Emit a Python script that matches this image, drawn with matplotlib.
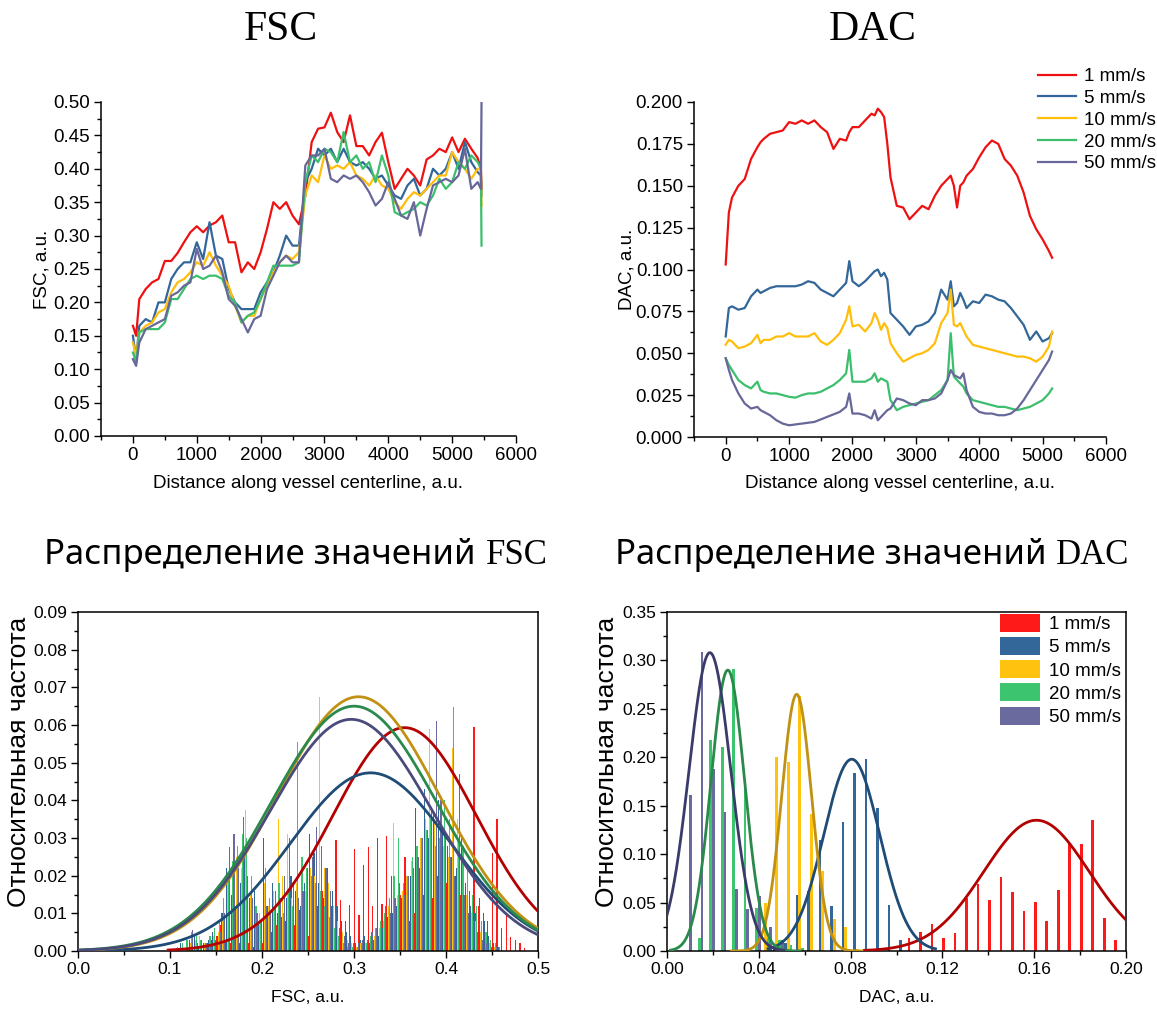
import numpy as np
import matplotlib
matplotlib.use("Agg")
import matplotlib.pyplot as plt
from matplotlib.ticker import MultipleLocator, FormatStrFormatter
from matplotlib.patches import Patch

W, H = 1157, 1009
plt.rcParams['font.family'] = ['Liberation Sans', 'DejaVu Sans']

# ---------------------------------------------------------------- data
speeds = ["1 mm/s", "5 mm/s", "10 mm/s", "20 mm/s", "50 mm/s"]

# FSC profiles along the vessel centerline
fsc_dist = [0, 50, 100, 200, 300, 400, 500, 600, 700, 800, 900, 1000, 1100, 1200,
            1300, 1400, 1500, 1600, 1700, 1800, 1900, 2000, 2100, 2200, 2300, 2400,
            2500, 2600, 2700, 2800, 2900, 3000, 3100, 3200, 3300, 3400, 3500, 3600,
            3700, 3800, 3900, 4000, 4100, 4200, 4300, 4400, 4500, 4600, 4700, 4800,
            4900, 5000, 5100, 5200, 5300, 5400, 5450, 5460]
fsc_1 = [0.165, 0.150, 0.205, 0.220, 0.230, 0.235, 0.262, 0.262, 0.274, 0.290, 0.305,
         0.314, 0.305, 0.315, 0.320, 0.330, 0.290, 0.290, 0.245, 0.260, 0.250, 0.275,
         0.310, 0.350, 0.340, 0.350, 0.330, 0.317, 0.360, 0.440, 0.460, 0.462, 0.484,
         0.455, 0.440, 0.480, 0.434, 0.434, 0.420, 0.440, 0.454, 0.410, 0.370, 0.385,
         0.400, 0.390, 0.375, 0.414, 0.420, 0.430, 0.425, 0.447, 0.425, 0.445, 0.430,
         0.416, 0.400, 0.370]
fsc_5 = [0.150, 0.115, 0.165, 0.175, 0.170, 0.200, 0.200, 0.235, 0.250, 0.260, 0.260,
         0.290, 0.265, 0.320, 0.270, 0.265, 0.220, 0.200, 0.190, 0.190, 0.190, 0.215,
         0.230, 0.245, 0.270, 0.300, 0.285, 0.285, 0.380, 0.400, 0.430, 0.420, 0.430,
         0.410, 0.430, 0.410, 0.405, 0.410, 0.400, 0.385, 0.390, 0.375, 0.360, 0.355,
         0.375, 0.385, 0.360, 0.370, 0.400, 0.390, 0.400, 0.425, 0.400, 0.440, 0.410,
         0.395, 0.390, 0.360]
fsc_10 = [0.140, 0.120, 0.155, 0.165, 0.170, 0.185, 0.190, 0.215, 0.230, 0.235, 0.245,
          0.260, 0.255, 0.275, 0.255, 0.240, 0.225, 0.195, 0.170, 0.180, 0.180, 0.205,
          0.225, 0.245, 0.260, 0.270, 0.265, 0.275, 0.360, 0.390, 0.380, 0.420, 0.400,
          0.405, 0.400, 0.410, 0.390, 0.385, 0.375, 0.390, 0.375, 0.370, 0.350, 0.340,
          0.355, 0.365, 0.360, 0.370, 0.380, 0.390, 0.390, 0.425, 0.410, 0.400, 0.385,
          0.400, 0.400, 0.345]
fsc_20 = [0.125, 0.110, 0.155, 0.160, 0.160, 0.160, 0.170, 0.205, 0.205, 0.220, 0.235,
          0.240, 0.235, 0.240, 0.240, 0.235, 0.210, 0.200, 0.170, 0.180, 0.185, 0.205,
          0.230, 0.255, 0.255, 0.255, 0.255, 0.260, 0.380, 0.420, 0.410, 0.430, 0.425,
          0.410, 0.455, 0.410, 0.420, 0.400, 0.410, 0.380, 0.420, 0.390, 0.335, 0.330,
          0.335, 0.340, 0.350, 0.345, 0.360, 0.385, 0.370, 0.380, 0.410, 0.400, 0.420,
          0.410, 0.400, 0.285]
fsc_50 = [0.115, 0.105, 0.140, 0.160, 0.165, 0.170, 0.175, 0.210, 0.215, 0.225, 0.230,
          0.280, 0.250, 0.255, 0.270, 0.245, 0.205, 0.195, 0.175, 0.155, 0.175, 0.180,
          0.220, 0.240, 0.260, 0.270, 0.260, 0.260, 0.405, 0.420, 0.420, 0.430, 0.385,
          0.380, 0.390, 0.385, 0.390, 0.380, 0.365, 0.345, 0.355, 0.380, 0.355, 0.330,
          0.325, 0.350, 0.300, 0.340, 0.375, 0.380, 0.385, 0.380, 0.390, 0.430, 0.370,
          0.380, 0.370, 0.500]

# DAC profiles along the vessel centerline
dac_dist = [0, 50, 100, 200, 300, 400, 500, 550, 600, 700, 800, 900, 1000, 1100, 1200,
            1300, 1400, 1500, 1600, 1700, 1800, 1900, 1950, 2000, 2100, 2200, 2300, 2350,
            2400, 2450, 2500, 2550, 2600, 2700, 2800, 2900, 3000, 3100, 3200, 3300, 3400,
            3500, 3550, 3600, 3650, 3700, 3750, 3800, 3900, 4000, 4100, 4200, 4300, 4400,
            4500, 4600, 4700, 4800, 4900, 5000, 5100, 5150]
dac_1 = [0.103, 0.134, 0.143, 0.150, 0.154, 0.166, 0.173, 0.176, 0.178, 0.181, 0.182,
         0.183, 0.188, 0.187, 0.189, 0.187, 0.189, 0.185, 0.182, 0.172, 0.178, 0.177,
         0.182, 0.185, 0.185, 0.189, 0.193, 0.192, 0.196, 0.194, 0.191, 0.175, 0.155,
         0.138, 0.137, 0.130, 0.134, 0.138, 0.136, 0.144, 0.150, 0.154, 0.156, 0.150,
         0.137, 0.150, 0.152, 0.156, 0.160, 0.167, 0.173, 0.177, 0.175, 0.166, 0.162,
         0.156, 0.146, 0.132, 0.124, 0.118, 0.111, 0.107]
dac_5 = [0.060, 0.077, 0.078, 0.076, 0.077, 0.084, 0.088, 0.086, 0.087, 0.089, 0.090,
         0.090, 0.090, 0.090, 0.091, 0.093, 0.092, 0.088, 0.086, 0.084, 0.088, 0.092,
         0.105, 0.093, 0.090, 0.093, 0.097, 0.099, 0.100, 0.096, 0.098, 0.094, 0.074,
         0.070, 0.066, 0.061, 0.066, 0.067, 0.069, 0.074, 0.088, 0.082, 0.093, 0.078,
         0.080, 0.086, 0.082, 0.077, 0.081, 0.080, 0.085, 0.084, 0.082, 0.081, 0.077,
         0.072, 0.067, 0.058, 0.063, 0.057, 0.059, 0.062]
dac_10 = [0.055, 0.058, 0.057, 0.053, 0.054, 0.056, 0.061, 0.056, 0.058, 0.058, 0.060,
          0.060, 0.062, 0.060, 0.060, 0.060, 0.062, 0.057, 0.055, 0.058, 0.062, 0.070,
          0.078, 0.066, 0.067, 0.063, 0.068, 0.074, 0.070, 0.064, 0.068, 0.065, 0.056,
          0.050, 0.045, 0.047, 0.049, 0.050, 0.052, 0.056, 0.068, 0.074, 0.088, 0.067,
          0.066, 0.068, 0.064, 0.060, 0.055, 0.054, 0.053, 0.052, 0.051, 0.050, 0.049,
          0.048, 0.048, 0.047, 0.045, 0.048, 0.054, 0.063]
dac_20 = [0.047, 0.043, 0.040, 0.034, 0.031, 0.029, 0.033, 0.028, 0.027, 0.026, 0.026,
          0.025, 0.024, 0.0235, 0.025, 0.026, 0.026, 0.027, 0.029, 0.031, 0.034, 0.038,
          0.052, 0.033, 0.033, 0.033, 0.035, 0.038, 0.033, 0.035, 0.034, 0.033, 0.022,
          0.016, 0.018, 0.019, 0.020, 0.021, 0.022, 0.025, 0.028, 0.034, 0.062, 0.036,
          0.034, 0.032, 0.030, 0.026, 0.022, 0.021, 0.020, 0.019, 0.018, 0.018, 0.017,
          0.016, 0.017, 0.018, 0.020, 0.022, 0.026, 0.029]
dac_50 = [0.047, 0.040, 0.034, 0.026, 0.020, 0.017, 0.018, 0.016, 0.015, 0.013, 0.010,
          0.008, 0.007, 0.0075, 0.008, 0.0085, 0.009, 0.0105, 0.012, 0.0135, 0.015, 0.018,
          0.026, 0.014, 0.014, 0.013, 0.011, 0.016, 0.010, 0.012, 0.014, 0.016, 0.017,
          0.023, 0.022, 0.020, 0.019, 0.022, 0.022, 0.023, 0.026, 0.034, 0.040, 0.037,
          0.036, 0.035, 0.038, 0.028, 0.018, 0.015, 0.014, 0.014, 0.013, 0.013, 0.014,
          0.017, 0.022, 0.028, 0.034, 0.040, 0.046, 0.051]

# FSC histograms: relative frequency per 0.005 bin, bins start at 0.100
fsc_bin_start = 0.100
fsc_bin_width = 0.005
fsc_hist_1 = [0, 0, 0, 0, 0, 0, 0, 0, 0.002, 0.003,
              0.004, 0.007, 0.003, 0.002, 0.001, 0.002, 0.003, 0.002, 0.001, 0.001,
              0.002, 0.003, 0.005, 0.007, 0.009, 0.008, 0.006, 0.007, 0.011, 0.005,
              0.004, 0.008, 0.012, 0.016, 0.018, 0.012, 0.0296, 0.0136, 0.008, 0.0122,
              0.027, 0.0096, 0.0227, 0.0277, 0.012, 0.030, 0.0125, 0.0305, 0.020, 0.010,
              0.015, 0.025, 0.008, 0.010, 0.012, 0.015, 0.018, 0.014, 0.020, 0.022,
              0.018, 0.012, 0.020, 0.015, 0.010, 0.016, 0.0594, 0.012, 0.010, 0.008,
              0.026, 0.035, 0.006, 0.010, 0.0038, 0.0029, 0.002, 0.0008, 0, 0]
fsc_hist_5 = [0, 0, 0.002, 0, 0.003, 0.004, 0.001, 0.002, 0.003, 0.005,
              0.004, 0.010, 0.022, 0.015, 0.012, 0.018, 0.025, 0.014, 0.016, 0.008,
              0.030, 0.012, 0.018, 0.010, 0.009, 0.014, 0.020, 0.016, 0.012, 0.018,
              0.031, 0.026, 0.018, 0.014, 0.022, 0.016, 0.012, 0.008, 0.005, 0.004,
              0.002, 0.003, 0.004, 0.002, 0.003, 0.004, 0.006, 0.009, 0.010, 0.012,
              0.014, 0.018, 0.020, 0.038, 0.022, 0.043, 0.030, 0.036, 0.040, 0.032,
              0.028, 0.025, 0.022, 0.030, 0.018, 0.012, 0.010, 0.014, 0.008, 0.004,
              0.002, 0.001, 0, 0, 0, 0, 0, 0, 0, 0]
fsc_hist_10 = [0, 0, 0, 0.001, 0.002, 0.003, 0.004, 0.002, 0.003, 0.004,
               0.005, 0.008, 0.020, 0.018, 0.025, 0.022, 0.0375, 0.015, 0.012, 0.010,
               0.018, 0.012, 0.016, 0.035, 0.020, 0.031, 0.014, 0.018, 0.012, 0.016,
               0.022, 0.020, 0.0675, 0.022, 0.018, 0.012, 0.008, 0.005, 0.003, 0.002,
               0.001, 0.002, 0.002, 0.003, 0.004, 0.006, 0.008, 0.012, 0.034, 0.015,
               0.016, 0.020, 0.024, 0.028, 0.030, 0.035, 0.059, 0.035, 0.030, 0.028,
               0.025, 0.054, 0.035, 0.020, 0.015, 0.010, 0.008, 0.005, 0.003, 0.002,
               0.001, 0, 0, 0, 0, 0, 0, 0, 0, 0]
fsc_hist_20 = [0, 0.001, 0.002, 0.003, 0.005, 0.004, 0.003, 0.002, 0.004, 0.006,
               0.008, 0.014, 0.020, 0.024, 0.028, 0.031, 0.030, 0.020, 0.012, 0.008,
               0.022, 0.014, 0.012, 0.018, 0.010, 0.016, 0.012, 0.0555, 0.025, 0.022,
               0.020, 0.018, 0.016, 0.012, 0.009, 0.006, 0.004, 0.002, 0.001, 0.001,
               0.001, 0.002, 0.002, 0.004, 0.006, 0.008, 0.010, 0.014, 0.020, 0.030,
               0.018, 0.020, 0.025, 0.028, 0.030, 0.032, 0.035, 0.028, 0.030, 0.040,
               0.035, 0.0649, 0.030, 0.028, 0.022, 0.015, 0.012, 0.008, 0.005, 0.003,
               0.002, 0.001, 0, 0, 0, 0, 0, 0, 0, 0]
fsc_hist_50 = [0, 0, 0, 0, 0.0055, 0.002, 0.003, 0.002, 0.001, 0.003,
               0.005, 0.010, 0.0275, 0.031, 0.022, 0.0355, 0.020, 0.014, 0.010, 0.008,
               0.012, 0.010, 0.016, 0.014, 0.020, 0.030, 0.018, 0.014, 0.016, 0.022,
               0.025, 0.033, 0.028, 0.022, 0.016, 0.010, 0.006, 0.004, 0.002, 0.002,
               0.002, 0.003, 0.003, 0.005, 0.006, 0.008, 0.012, 0.010, 0.014, 0.018,
               0.015, 0.020, 0.022, 0.025, 0.030, 0.032, 0.038, 0.061, 0.040, 0.030,
               0.025, 0.020, 0.047, 0.015, 0.010, 0.008, 0.005, 0.003, 0.002, 0.001,
               0.001, 0, 0, 0, 0, 0, 0, 0, 0, 0]

# DAC histograms: relative frequency per 0.005 bin; each list starts at its own bin
dac_bin_width = 0.005
dac_hist_first_bin = [21, 9, 8, 2, 1]
dac_hist_1 = [0.013, 0.020, 0.0275, 0.0138, 0.019, 0.055, 0.069, 0.053, 0.076, 0.061,
              0.041, 0.0506, 0.031, 0.063, 0.111, 0.110, 0.135, 0.0344, 0.0114]
dac_hist_5 = [0.003, 0.008, 0.058, 0.062, 0.115, 0.046, 0.133, 0.184, 0.198, 0.148,
              0.047, 0.011]
dac_hist_10 = [0.050, 0.200, 0.195, 0.263, 0.141, 0.083, 0.033, 0.025, 0.002]
dac_hist_20 = [0.013, 0.218, 0.211, 0.291, 0.170, 0.0445, 0.0137, 0.011, 0.006, 0.003]
dac_hist_50 = [0.161, 0.309, 0.1875, 0.144, 0.0637, 0.0438, 0.057, 0.0246, 0.0117]

# Gaussian fits (amplitude, centre, width) and the span each fit is drawn over
fsc_fit_amp = [0.0593, 0.0473, 0.0675, 0.0650, 0.0615]
fsc_fit_mu = [0.355, 0.318, 0.305, 0.300, 0.297]
fsc_fit_sigma = [0.078, 0.087, 0.0887, 0.090, 0.088]
fsc_fit_from = [0.098, 0.0, 0.0, 0.0, 0.0]
fsc_fit_to = [0.5, 0.5, 0.5, 0.5, 0.5]

dac_fit_amp = [0.135, 0.198, 0.265, 0.290, 0.308]
dac_fit_mu = [0.161, 0.0805, 0.0565, 0.0265, 0.0187]
dac_fit_sigma = [0.023, 0.0122, 0.0065, 0.0073, 0.0091]
dac_fit_from = [0.086, 0.044, 0.028, 0.0015, 0.0]
dac_fit_to = [0.200, 0.117, 0.085, 0.058, 0.051]

# ---------------------------------------------------------------- styles
line_colors = ['#EE1111', '#336699', '#FFBE0B', '#3CBF6C', '#67679A']
bar_colors = ['#FF1A1A', '#336699', '#FFC20E', '#3CC46E', '#6A6A9E']
fit_colors = ['#B30000', '#1F4B77', '#C09112', '#2A8A4C', '#4A4A7C']
dac_fit_colors = ['#B30000', '#1F4B77', '#C09112', '#2A8A4C', '#3B3B6B']
FS_TOP = 13.5
FS_BOT = 12.5

fig = plt.figure(figsize=(W / 100, H / 100), dpi=100)


def axes_px(left, top, right, bottom):
    return fig.add_axes([left / W, 1 - bottom / H, (right - left) / W, (bottom - top) / H])


def style_axes(ax, box, size):
    for side in ('top', 'right'):
        ax.spines[side].set_visible(box)
    for s in ax.spines.values():
        s.set_linewidth(1.1)
    ax.tick_params(which='both', direction='out', top=False, right=False,
                   labelsize=size, width=1.0, pad=3)
    ax.tick_params(which='major', length=5)
    ax.tick_params(which='minor', length=3)


def place_labels(ax, xlabel, ylabel, xl_pos, yl_pos, xsize, ysize):
    ax.set_xlabel(xlabel, fontsize=xsize)
    ax.set_ylabel(ylabel, fontsize=ysize)
    ax.xaxis.set_label_coords(*xl_pos)
    ax.yaxis.set_label_coords(*yl_pos)
    ax.xaxis.label.set_verticalalignment('center')
    ax.yaxis.label.set_verticalalignment('center')


# ---------------------------------------------------------------- FSC profile
ax1 = axes_px(101, 102, 516, 436)
for ys, c in zip([fsc_1, fsc_5, fsc_10, fsc_20, fsc_50], line_colors):
    ax1.plot(fsc_dist, ys, color=c, lw=1.6)
ax1.set_xlim(-500, 6000)
ax1.set_ylim(0, 0.5)
ax1.xaxis.set_major_locator(MultipleLocator(1000))
ax1.xaxis.set_minor_locator(MultipleLocator(500))
ax1.yaxis.set_major_locator(MultipleLocator(0.05))
ax1.yaxis.set_minor_locator(MultipleLocator(0.025))
ax1.yaxis.set_major_formatter(FormatStrFormatter('%.2f'))
style_axes(ax1, False, FS_TOP)
place_labels(ax1, 'Distance along vessel centerline, a.u.', 'FSC, a.u.',
             (0.5, (436 - 484) / 334), ((42 - 101) / 415, 0.5), FS_TOP, FS_TOP)

# ---------------------------------------------------------------- DAC profile
ax2 = axes_px(694, 102, 1106, 437)
handles = []
for ys, c, lab in zip([dac_1, dac_5, dac_10, dac_20, dac_50], line_colors, speeds):
    h, = ax2.plot(dac_dist, ys, color=c, lw=1.6, label=lab)
    handles.append(h)
ax2.set_xlim(-500, 6000)
ax2.set_ylim(0, 0.2)
ax2.xaxis.set_major_locator(MultipleLocator(1000))
ax2.xaxis.set_minor_locator(MultipleLocator(500))
ax2.yaxis.set_major_locator(MultipleLocator(0.025))
ax2.yaxis.set_minor_locator(MultipleLocator(0.0125))
ax2.yaxis.set_major_formatter(FormatStrFormatter('%.3f'))
style_axes(ax2, False, FS_TOP)
place_labels(ax2, 'Distance along vessel centerline, a.u.', 'DAC, a.u.',
             (0.5, (437 - 484) / 335), ((627 - 694) / 412, 0.5), FS_TOP, FS_TOP)
fig.legend(handles=handles, loc='upper left', bbox_to_anchor=(1038 / W, 1 - 68 / H),
           frameon=False, fontsize=FS_TOP, handlelength=2.0, handletextpad=0.45,
           labelspacing=0.25, borderpad=0, borderaxespad=0)

# ---------------------------------------------------------------- FSC histogram
ax3 = axes_px(78, 612, 538, 951)
fsc_hists = [fsc_hist_1, fsc_hist_5, fsc_hist_10, fsc_hist_20, fsc_hist_50]
for i, (hv, c) in enumerate(zip(fsc_hists, bar_colors)):
    hv = np.asarray(hv)
    left = fsc_bin_start + fsc_bin_width * np.arange(len(hv))
    ax3.bar(left + 0.0005 + 0.001 * i, hv, width=0.0013, color=c,
            linewidth=0, zorder=2)
for i in range(5):
    xs = np.linspace(fsc_fit_from[i], fsc_fit_to[i], 400)
    ys = fsc_fit_amp[i] * np.exp(-(xs - fsc_fit_mu[i]) ** 2 / (2 * fsc_fit_sigma[i] ** 2))
    ax3.plot(xs, ys, color=fit_colors[i], lw=2.0, zorder=3)
ax3.set_xlim(0, 0.5)
ax3.set_ylim(0, 0.09)
ax3.xaxis.set_major_locator(MultipleLocator(0.1))
ax3.xaxis.set_minor_locator(MultipleLocator(0.05))
ax3.xaxis.set_major_formatter(FormatStrFormatter('%.1f'))
ax3.yaxis.set_major_locator(MultipleLocator(0.01))
ax3.yaxis.set_minor_locator(MultipleLocator(0.005))
ax3.yaxis.set_major_formatter(FormatStrFormatter('%.2f'))
style_axes(ax3, True, FS_BOT)
place_labels(ax3, 'FSC, a.u.', 'Относительная частота',
             (0.5, (951 - 998) / 339), ((19 - 78) / 460, (951 - 762) / 339), FS_BOT, 19)

# ---------------------------------------------------------------- DAC histogram
ax4 = axes_px(667, 612, 1126, 951)
dac_hists = [dac_hist_1, dac_hist_5, dac_hist_10, dac_hist_20, dac_hist_50]
patches = []
for i, (hv, c, lab) in enumerate(zip(dac_hists, bar_colors, speeds)):
    hv = np.asarray(hv)
    left = dac_bin_width * (dac_hist_first_bin[i] + np.arange(len(hv)))
    ax4.bar(left + 0.0005 + 0.00118 * i, hv, width=0.00118, color=c, linewidth=0,
            zorder=2)
    patches.append(Patch(facecolor=c, edgecolor='none', label=lab))
for i in range(5):
    xs = np.linspace(dac_fit_from[i], dac_fit_to[i], 400)
    ys = dac_fit_amp[i] * np.exp(-(xs - dac_fit_mu[i]) ** 2 / (2 * dac_fit_sigma[i] ** 2))
    ax4.plot(xs, ys, color=dac_fit_colors[i], lw=2.0, zorder=3)
ax4.set_xlim(0, 0.2)
ax4.set_ylim(0, 0.35)
ax4.xaxis.set_major_locator(MultipleLocator(0.04))
ax4.xaxis.set_minor_locator(MultipleLocator(0.02))
ax4.xaxis.set_major_formatter(FormatStrFormatter('%.2f'))
ax4.yaxis.set_major_locator(MultipleLocator(0.05))
ax4.yaxis.set_minor_locator(MultipleLocator(0.025))
ax4.yaxis.set_major_formatter(FormatStrFormatter('%.2f'))
style_axes(ax4, True, FS_BOT)
place_labels(ax4, 'DAC, a.u.', 'Относительная частота',
             (0.5, (951 - 998) / 339), ((607 - 667) / 459, (951 - 762) / 339), FS_BOT, 19)
ax4.legend(handles=patches, loc='upper right', bbox_to_anchor=(1121 / W, 1 - 614 / H),
           bbox_transform=fig.transFigure, frameon=False, fontsize=FS_TOP,
           handlelength=2.1, handleheight=1.1, handletextpad=0.5, labelspacing=0.2,
           borderpad=0, borderaxespad=0)

# ---------------------------------------------------------------- titles
serif = ['Liberation Serif', 'DejaVu Serif']
sans = ['Noto Sans', 'DejaVu Sans']
fig.canvas.draw()
renderer = fig.canvas.get_renderer()


def title_row(cx, baseline, parts, gap=0.0):
    objs = [fig.text(0, 0, s, family=fam, fontsize=size, ha='left', va='baseline')
            for s, fam, size in parts]
    widths = [o.get_window_extent(renderer=renderer).width for o in objs]
    total = sum(widths) + gap * (len(objs) - 1)
    x = cx - total / 2
    for o, w in zip(objs, widths):
        o.set_position((x / W, 1 - baseline / H))
        x += w + gap


title_row(281, 40, [('FSC', serif, 30)])
title_row(873, 40, [('DAC', serif, 30)])
title_row(296, 564, [('Распределение значений', sans, 25), ('FSC', serif, 25)], gap=10)
title_row(872, 564, [('Распределение значений', sans, 25), ('DAC', serif, 25)], gap=10)

fig.savefig('out.png', dpi=100)
